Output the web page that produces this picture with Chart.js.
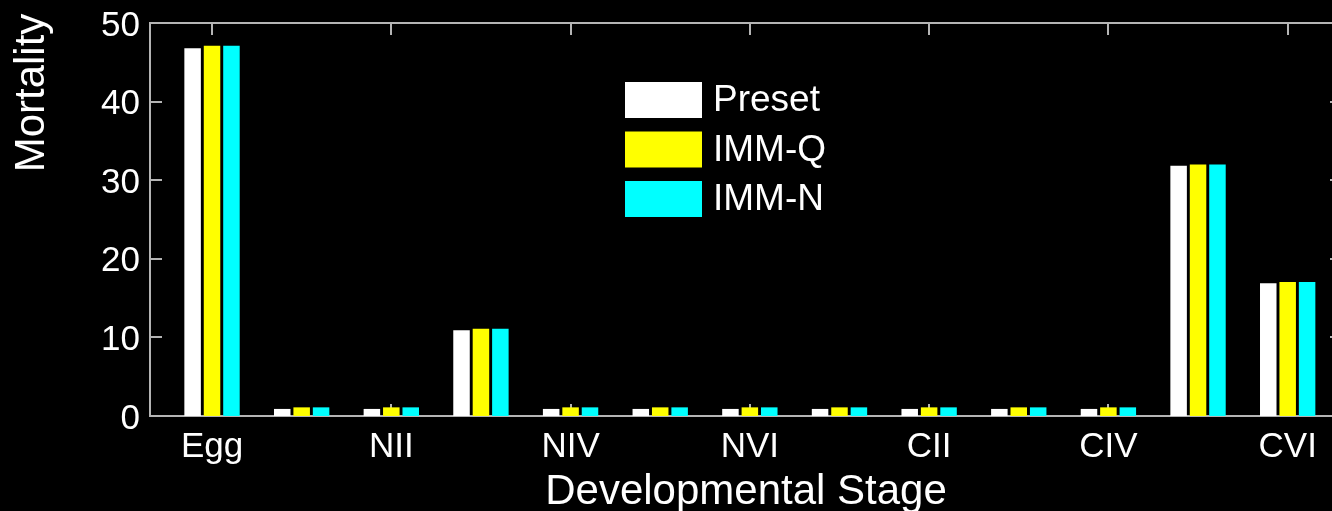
<!DOCTYPE html>
<html>
<head>
<meta charset="utf-8">
<script src="https://cdn.jsdelivr.net/npm/chart.js@4/dist/chart.umd.min.js"></script>
<style>
    body { margin: 0; background: #000; overflow: hidden; }
    #wrap { position: absolute; left: 0; top: 0; width: 1342px; height: 511px; }
</style>
</head>
<body>
<div id="wrap"><canvas id="chartCanvas"></canvas></div>
<script>
// Datos del grafico
const stages = ["Egg", "NI", "NII", "NIII", "NIV", "NV", "NVI", "CI", "CII", "CIII", "CIV", "CV", "CVI"];
const preset = [46.8, 0.9, 0.9, 10.9, 0.9, 0.9, 0.9, 0.9, 0.9, 0.9, 0.9, 31.85, 16.9];
const immQ   = [47.1, 1.1, 1.1, 11.1, 1.1, 1.1, 1.1, 1.1, 1.1, 1.1, 1.1, 32.0, 17.05];
const immN   = [47.1, 1.1, 1.1, 11.1, 1.1, 1.1, 1.1, 1.1, 1.1, 1.1, 1.1, 32.0, 17.05];
const yTicks = [0, 10, 20, 30, 40, 50];
// solo se etiquetan las etapas alternas (Egg, NII, NIV ...)
const xTicks = stages.map((s, i) => i + 1).filter((v) => v % 2 === 1);
const yTitle = "Mortality";

const axisColor = "#b4b4b4";
const fontName = "'Liberation Sans', Arial, sans-serif";

function toPoints(values) {
    return values.map((v, i) => ({ x: i + 1, y: v }));
}

// Ejes tipo caja con marcas hacia dentro (debajo de las barras)
const boxAxes = {
    id: "boxAxes",
    beforeDatasetsDraw(chart) {
        const { ctx, chartArea: a, scales } = chart;
        const tl = 12;
        ctx.save();
        ctx.strokeStyle = axisColor;
        ctx.lineWidth = 2;
        ctx.beginPath();
        ctx.rect(a.left, a.top, a.right - a.left, a.bottom - a.top);
        for (const v of yTicks) {
            const y = Math.round(scales.y.getPixelForValue(v));
            ctx.moveTo(a.left, y); ctx.lineTo(a.left + tl, y);
            ctx.moveTo(a.right, y); ctx.lineTo(a.right - tl, y);
        }
        for (const v of xTicks) {
            const x = Math.round(scales.x.getPixelForValue(v));
            ctx.moveTo(x, a.top); ctx.lineTo(x, a.top + tl);
            ctx.moveTo(x, a.bottom); ctx.lineTo(x, a.bottom - tl);
        }
        ctx.stroke();

        // Titulo del eje Y
        ctx.fillStyle = "#ffffff";
        ctx.font = "42px " + fontName;
        ctx.textAlign = "center";
        ctx.textBaseline = "middle";
        ctx.translate(32, 93);
        ctx.rotate(-Math.PI / 2);
        ctx.fillText(yTitle, 0, 0);
        ctx.restore();
    }
};

// Leyenda dentro del area del grafico
const innerLegend = {
    id: "innerLegend",
    afterDatasetsDraw(chart) {
        const { ctx } = chart;
        ctx.save();
        ctx.font = "37px " + fontName;
        ctx.textBaseline = "middle";
        ctx.textAlign = "left";
        chart.data.datasets.forEach((ds, i) => {
            const cy = 100 + i * 49.5;
            ctx.fillStyle = ds.backgroundColor;
            ctx.fillRect(625, cy - 18, 77, 36);
            ctx.fillStyle = "#ffffff";
            ctx.fillText(ds.label, 713, cy + 1);
        });
        ctx.restore();
    }
};

const chartCanvas = document.getElementById("chartCanvas");

new Chart(chartCanvas, {
    type: "bar",
    data: {
        datasets: [
            { label: "Preset", data: toPoints(preset), backgroundColor: "#ffffff" },
            { label: "IMM-Q", data: toPoints(immQ), backgroundColor: "#ffff00" },
            { label: "IMM-N", data: toPoints(immN), backgroundColor: "#00ffff" }
        ]
    },
    options: {
        responsive: true,
        maintainAspectRatio: false,
        animation: false,
        layout: { padding: { top: 23, left: 0, right: 0, bottom: 0 } },
        datasets: {
            bar: { categoryPercentage: 0.65, barPercentage: 0.85, borderWidth: 0 }
        },
        plugins: {
            legend: { display: false },
            tooltip: { enabled: false }
        },
        scales: {
            x: {
                type: "linear",
                offset: false,
                min: 0.308,
                max: 13.606,
                grid: { display: false, drawTicks: false, tickLength: 0, offset: false },
                border: { display: false },
                afterBuildTicks: (scale) => {
                    scale.ticks = xTicks.map((v) => ({ value: v }));
                },
                afterFit: (scale) => { scale.height = 95; },
                ticks: {
                    autoSkip: false,
                    maxRotation: 0,
                    color: "#ffffff",
                    padding: 10,
                    font: { family: fontName, size: 35 },
                    callback: (value) => stages[value - 1]
                },
                title: {
                    display: true,
                    text: "Developmental Stage",
                    color: "#ffffff",
                    padding: { top: 0, bottom: -2 },
                    font: { family: fontName, size: 42, lineHeight: 1 }
                }
            },
            y: {
                min: 0,
                max: 50,
                grid: { display: false, drawTicks: false, tickLength: 0 },
                border: { display: false },
                afterFit: (scale) => { scale.width = 150; },
                ticks: {
                    stepSize: 10,
                    color: "#ffffff",
                    padding: 10,
                    labelOffset: 3,
                    font: { family: fontName, size: 35, lineHeight: 0.6 }
                }
            }
        }
    },
    plugins: [boxAxes, innerLegend]
});
</script>
</body>
</html>
